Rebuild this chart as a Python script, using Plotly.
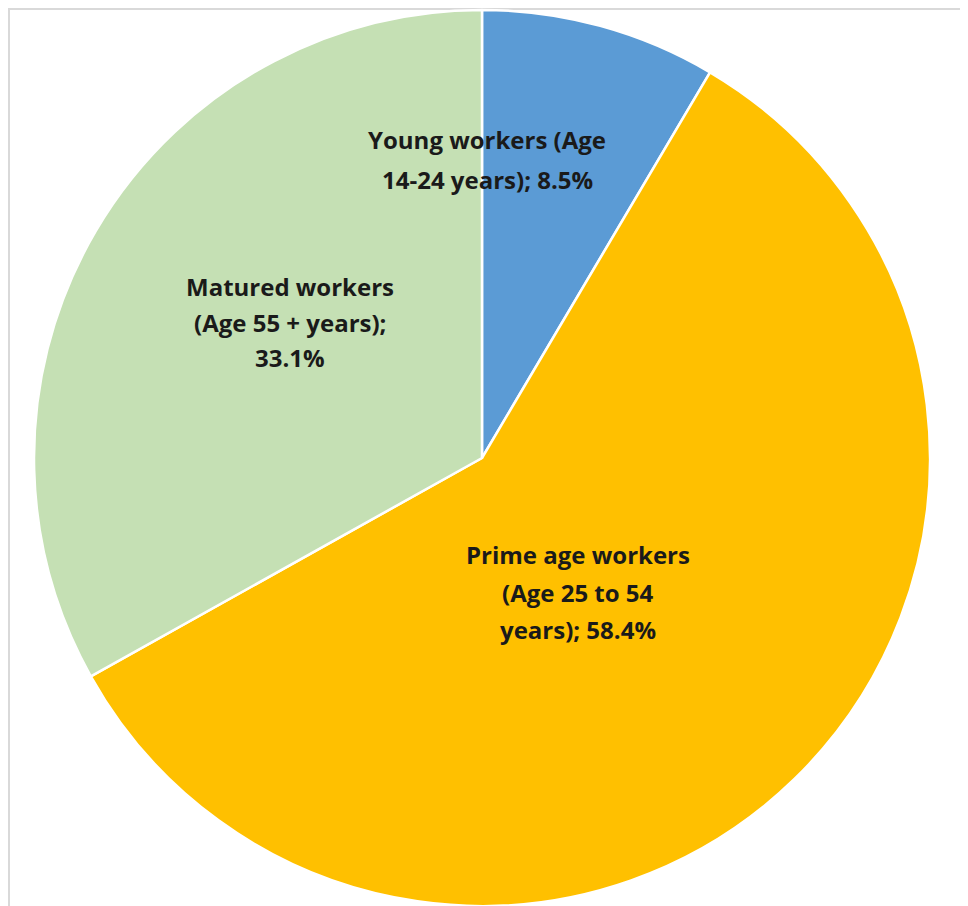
import plotly.graph_objects as go

W, H = 968, 906
OFF = 8  # page body margin offset

# Data
categories = ["Young workers (Age 14-24 years)",
              "Prime age workers (Age 25 to 54 years)",
              "Matured workers (Age 55 + years)"]
shares = [8.5, 58.4, 33.1]
colors = ["#5B9BD5", "#FFC000", "#C5E0B4"]

# Wrapped data labels, as shown on the chart
label_lines = [
    ["Young workers (Age", "14-24 years); 8.5%"],
    ["Prime age workers", "(Age 25 to 54", "years); 58.4%"],
    ["Matured workers", "(Age 55 + years);", "33.1%"],
]
# label block centres (screen pixels) and line spacing
label_centers = [(487, 160), (578, 592), (290, 322)]
line_gaps = [40, 37.5, 35.5]

cx_pie, cy_pie, r_pie = 482 - OFF, 458 - OFF, 448

fig = go.Figure(go.Pie(
    labels=categories,
    values=shares,
    sort=False,
    direction="clockwise",
    rotation=0,
    marker=dict(colors=colors, line=dict(color="white", width=2.5)),
    textinfo="none",
    hoverinfo="label+percent",
    domain=dict(x=[(cx_pie - r_pie) / W, (cx_pie + r_pie) / W],
                y=[1 - (cy_pie + r_pie) / H, 1 - (cy_pie - r_pie) / H]),
    showlegend=False,
))

annotations = []
for lines, (cx, cy), gap in zip(label_lines, label_centers, line_gaps):
    n = len(lines)
    for i, line in enumerate(lines):
        py = cy - OFF + (i - (n - 1) / 2) * gap
        annotations.append(dict(
            x=(cx - OFF) / W, y=1 - py / H, xref="paper", yref="paper",
            text=f"<b>{line}</b>", showarrow=False,
            xanchor="center", yanchor="middle",
            font=dict(family="Open Sans, sans-serif", size=24, color="#1a1a1a"),
        ))

fig.update_layout(
    width=W, height=H,
    margin=dict(l=0, r=0, t=0, b=0),
    paper_bgcolor="white",
    plot_bgcolor="white",
    annotations=annotations,
    shapes=[dict(type="rect", xref="paper", yref="paper",
                 x0=1 / W, x1=1.05, y0=-0.05, y1=1 - 1 / H,
                 line=dict(color="#D9D9D9", width=2), layer="below")],
)

fig.write_html("out.html")
